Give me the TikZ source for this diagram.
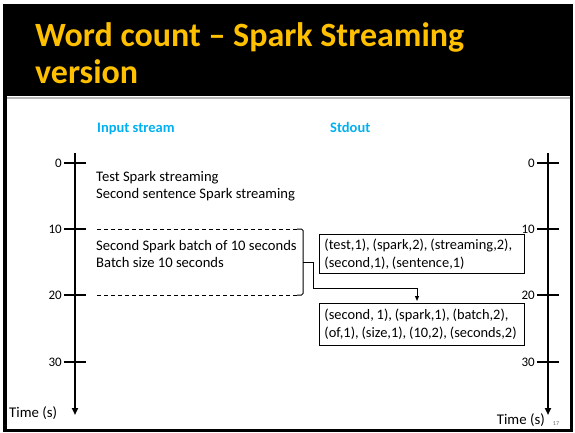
\documentclass[tikz,border=0pt]{standalone}
\usepackage{fontspec}
\setmainfont{Carlito}
\usetikzlibrary{arrows.meta,calc}
\definecolor{titlegold}{HTML}{FFC000}
\definecolor{headcyan}{HTML}{00B0F0}
\newcommand\bxsp{\spaceskip=0.2em plus 0.1em\relax}
\tikzset{
  titletxt/.style={text=titlegold, font=\fontsize{34}{40}\selectfont\bfseries, inner sep=0, anchor=base west},
  headtxt/.style={text=headcyan, font=\fontsize{14.5}{17}\selectfont\bfseries, inner sep=0, anchor=base west},
  bodytxt/.style={font=\fontsize{14.6}{17}\selectfont, inner sep=0, anchor=base west},
  ticklbl/.style={font=\fontsize{13}{15}\selectfont, inner sep=0, anchor=east},
  timelbl/.style={font=\fontsize{14.8}{17}\selectfont, inner sep=0},
  axisline/.style={line width=2.4pt, -{Triangle[length=7pt,width=6pt]}},
  tickline/.style={line width=1.3pt},
  outbox/.style={draw, line width=0.8pt, anchor=north west, minimum width=205pt, minimum height=39pt,
    text width=195pt, inner xsep=5pt, inner ysep=2pt, align=left,
    font=\fontsize{14.4}{18}\selectfont},
  dashline/.style={line width=0.8pt, dash pattern=on 4pt off 3pt},
  conn/.style={line width=1pt, -{Triangle[length=5pt,width=4pt]}},
}
\begin{document}
\begin{tikzpicture}[x=1pt,y=-1pt]
\useasboundingbox (0,0) rectangle (575,433);
% slide frame
\fill[black] (3,4) rectangle (573,96);
\draw[line width=3.5pt] (4.75,5.75) rectangle (571.25,430.25);
\draw[black!28, line width=2pt] (7,98) -- (569.5,98);
% title
\node[titletxt] (t1) at (35,47) {Word count – Spark Streaming};
\node[titletxt] (t2) at (35,84) {version};
% headers
\node[headtxt] (hin) at (97,132) {Input stream};
\node[headtxt] (hout) at (330,132) {Stdout};
% left axis
\coordinate (lat) at (75,153);
\coordinate (lab) at (75,415);
\draw[axisline] (lat) -- (lab);
\foreach \v/\y in {0/163,10/229,20/295,30/362}{
  \draw[tickline] (64,\y) -- (86,\y);
  \node[ticklbl] (lt\v) at (62,\y) {\v};
}
\node[timelbl, anchor=west] (ltime) at (9,413) {Time (s)};
% right axis
\coordinate (rat) at (548,153);
\coordinate (rab) at (548,415);
\draw[axisline] (rat) -- (rab);
\foreach \v/\y in {0/163,10/229,20/295,30/362}{
  \draw[tickline] (537,\y) -- (559,\y);
  \node[ticklbl] (rt\v) at (535,\y) {\v};
}
\node[timelbl, anchor=east] (rtime) at (545,420) {Time (s)};
\node[font=\fontsize{6}{7}\selectfont, text=black!60, inner sep=0] (pg) at (556,424) {17};
% input text
\node[bodytxt] (in1) at (96,181) {Test Spark streaming};
\node[bodytxt] (in2) at (96,198) {Second sentence Spark streaming};
\node[bodytxt] (in3) at (96,250) {Second Spark batch of 10 seconds};
\node[bodytxt] (in4) at (96,267) {Batch size 10 seconds};
% dashed batch limits
\coordinate (d1a) at (97,229);
\coordinate (d1b) at (297,229);
\coordinate (d2a) at (97,295);
\coordinate (d2b) at (297,295);
\draw[dashline] (d1a) -- (d1b);
\draw[dashline] (d2a) -- (d2b);
% bracket
\coordinate (brk) at (313,262);
\draw[line width=1pt, rounded corners=1.5pt] (d1b) -- (303,229) -- (303,295) -- (d2b);
\draw[line width=1pt] (303,262) -- (brk);
% output boxes
\node[outbox] (o1) at (319,234) {\bxsp\mbox{(test,1), (spark,2), (streaming,2),}\\\mbox{(second,1), (sentence,1)}};
\node[outbox, minimum height=42pt] (o2) at (319,303) {\bxsp\mbox{(second, 1), (spark,1), (batch,2),}\\\mbox{(of,1), (size,1), (10,2), (seconds,2)}};
% connector
\draw[conn] (brk) |- ($(o2.north west)+(98,-15)$) -- ($(o2.north west)+(98,-2)$);
\end{tikzpicture}
\end{document}
